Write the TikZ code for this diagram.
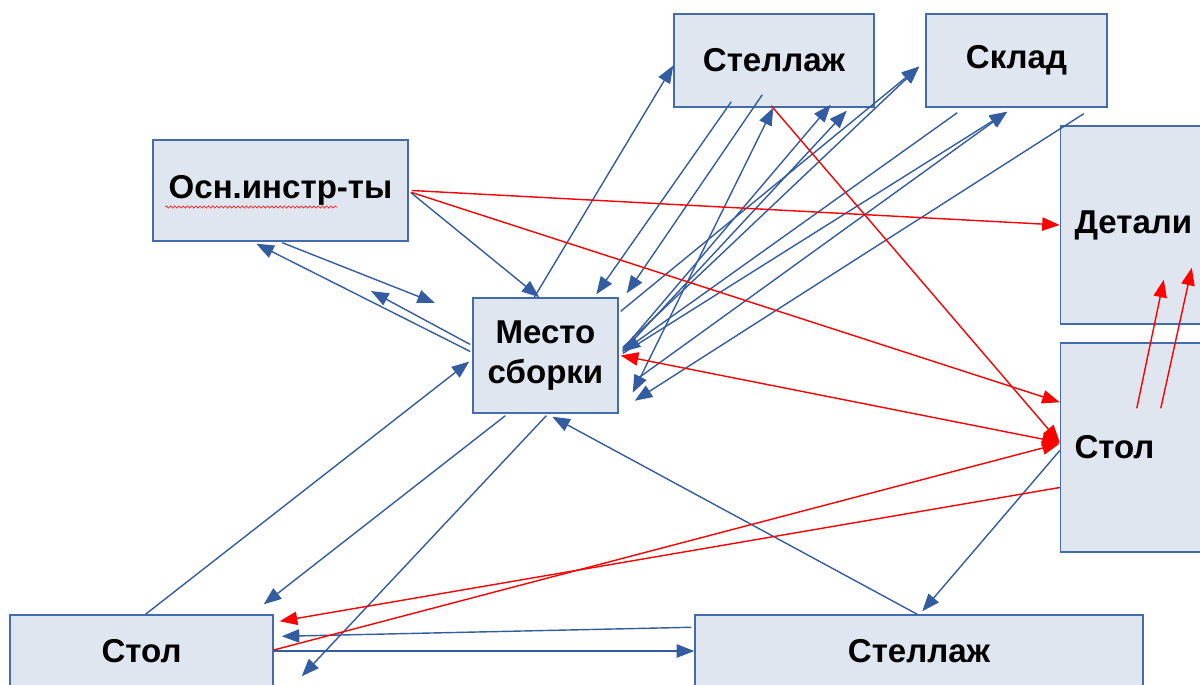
\documentclass[tikz,border=0pt]{standalone}
\usepackage{fontspec}
\setmainfont{Liberation Sans}
\usepackage{tikz}
\usetikzlibrary{arrows.meta,calc,decorations.pathmorphing}
\definecolor{boxfill}{RGB}{224,230,239}
\definecolor{boxline}{RGB}{68,107,172}
\definecolor{linkblue}{RGB}{52,92,160}

\begin{document}
\begin{tikzpicture}[x=0.025cm,y=-0.025cm]
    \tikzset{box/.style = {shape=rectangle,draw=boxline,fill=boxfill,line width=1pt,
        inner sep=0pt,font=\fontsize{23.5}{29}\selectfont\bfseries,align=center}}
    \tikzset{sidebox/.style = {box,text width=3.55cm,inner xsep=0.35cm,align=left,minimum width=4.25cm}}
    \tikzset{edge/.style = {->,>={Triangle[length=12.5pt,width=9.5pt]},draw=linkblue,line width=1pt}}
    \tikzset{redge/.style = {edge,draw=red,fill=red}}
    \useasboundingbox (0,0) rectangle (1200,684);
    % vertices
    \node[box,minimum width=5cm,minimum height=2.325cm] (shelfTop) at (774,60.5) {Стеллаж};
    \node[box,minimum width=4.525cm,minimum height=2.325cm] (store) at (1016.5,60.5) {Склад};
    \node[box,minimum width=6.375cm,minimum height=2.525cm] (tools) at (280.5,190.5) {Осн.инстр-ты};
    \node[box,minimum width=3.625cm,minimum height=2.875cm] (place) at (545.5,355.5) {Место\\сборки};
    \node[sidebox,minimum height=4.95cm] (parts) at (1145.5,225) {Детали};
    \node[sidebox,minimum height=5.225cm] (tableR) at (1145.5,447.5) {Стол};
    \node[box,minimum width=6.575cm,minimum height=1.8cm] (tableL) at (141.5,651) {Стол};
    \node[box,minimum width=11.2cm,minimum height=1.8cm] (shelfBot) at (919,651) {Стеллаж};
    \coordinate (gapA) at (435,303);
    \coordinate (gapB) at (371,291);
    % spell-check mark
    \draw[red,line width=0.4pt,decorate,decoration={snake,amplitude=0.8pt,segment length=3pt}]
        (165,207) -- (337,207);
    %edges
    \draw[edge] ($(place.north west)+(62,0)$) to ($(shelfTop.west)+(0,5)$);
    \draw[edge] ($(shelfTop.south west)+(58,-6)$) to ($(place.north west)+(124,-3)$);
    \draw[edge] ($(shelfTop.south west)+(89,-13)$) to ($(place.north east)+(8,-4)$);
    \draw[edge,<->] ($(place.south east)+(14,-21)$) to ($(shelfTop.south west)+(100,0)$);
    \draw[edge] ($(place.east)+(4,-6)$) to ($(shelfTop.south east)+(-44,-3)$);
    \draw[edge] ($(place.east)+(4,-4)$) to ($(shelfTop.south east)+(-28,3)$);
    \draw[edge] ($(place.north east)+(2,14)$) to ($(store.west)+(-6,6)$);
    \draw[edge] ($(place.east)+(4,-8)$) to ($(store.west)+(-6,6)$);
    \draw[edge] ($(store.south west)+(32,5)$) to ($(place.east)+(4,-4)$);
    \draw[edge] ($(place.east)+(4,-2)$) to ($(store.south west)+(82,4)$);
    \draw[edge] ($(place.south east)+(16,-33)$) to ($(store.south west)+(82,4)$);
    \draw[edge] ($(store.south east)+(-24,6)$) to ($(place.south east)+(16,-13)$);
    \draw[edge] ($(tools.east)+(2,2)$) to ($(place.north west)+(67,0)$);
    \draw[edge] ($(tools.south west)+(130,1)$) to (gapA);
    \draw[edge] ($(place.west)+(-2,-4)$) to ($(tools.south west)+(104,2)$);
    \draw[edge] ($(place.west)+(-2,-11)$) to (gapB);
    \draw[edge] ($(tableL.north)+(4,0)$) to ($(place.west)+(-3,6)$);
    \draw[edge] ($(place.south west)+(33,2)$) to ($(tableL.north east)+(-10,-10)$);
    \draw[edge] ($(place.south west)+(74,2)$) to ($(tableL.north east)+(28,62)$);
    \draw[edge] ($(shelfBot.north west)+(223,0)$) to ($(place.south west)+(80,3)$);
    \draw[edge] ($(tableR.west)+(0,3)$) to ($(shelfBot.north west)+(228,-3)$);
    \draw[edge] ($(shelfBot.north west)+(-3,13)$) to ($(tableL.north east)+(8,22)$);
    \draw[edge] (tableL.east) to (shelfBot.west);
    \draw[redge] ($(tools.east)+(3,0)$) to (parts.west);
    \draw[redge] ($(tools.east)+(3,2)$) to ($(tableR.north west)+(0,60)$);
    \draw[redge,<->] ($(place.east)+(2,0)$) to ($(tableR.west)+(0,-5)$);
    \draw[redge] ($(shelfTop.south west)+(98,-2)$) to ($(tableR.west)+(0,-5)$);
    \draw[redge] ($(tableL.east)+(0,-1)$) to ($(tableR.west)+(0,-4)$);
    \draw[redge] ($(tableR.west)+(0,40)$) to ($(tableL.north east)+(6,7)$);
    \draw[redge] ($(tableR.north west)+(77,66)$) to ($(parts.south west)+(104,-45)$);
    \draw[redge] ($(tableR.north west)+(101,66)$) to ($(parts.south west)+(132,-57)$);
\end{tikzpicture}
\end{document}
